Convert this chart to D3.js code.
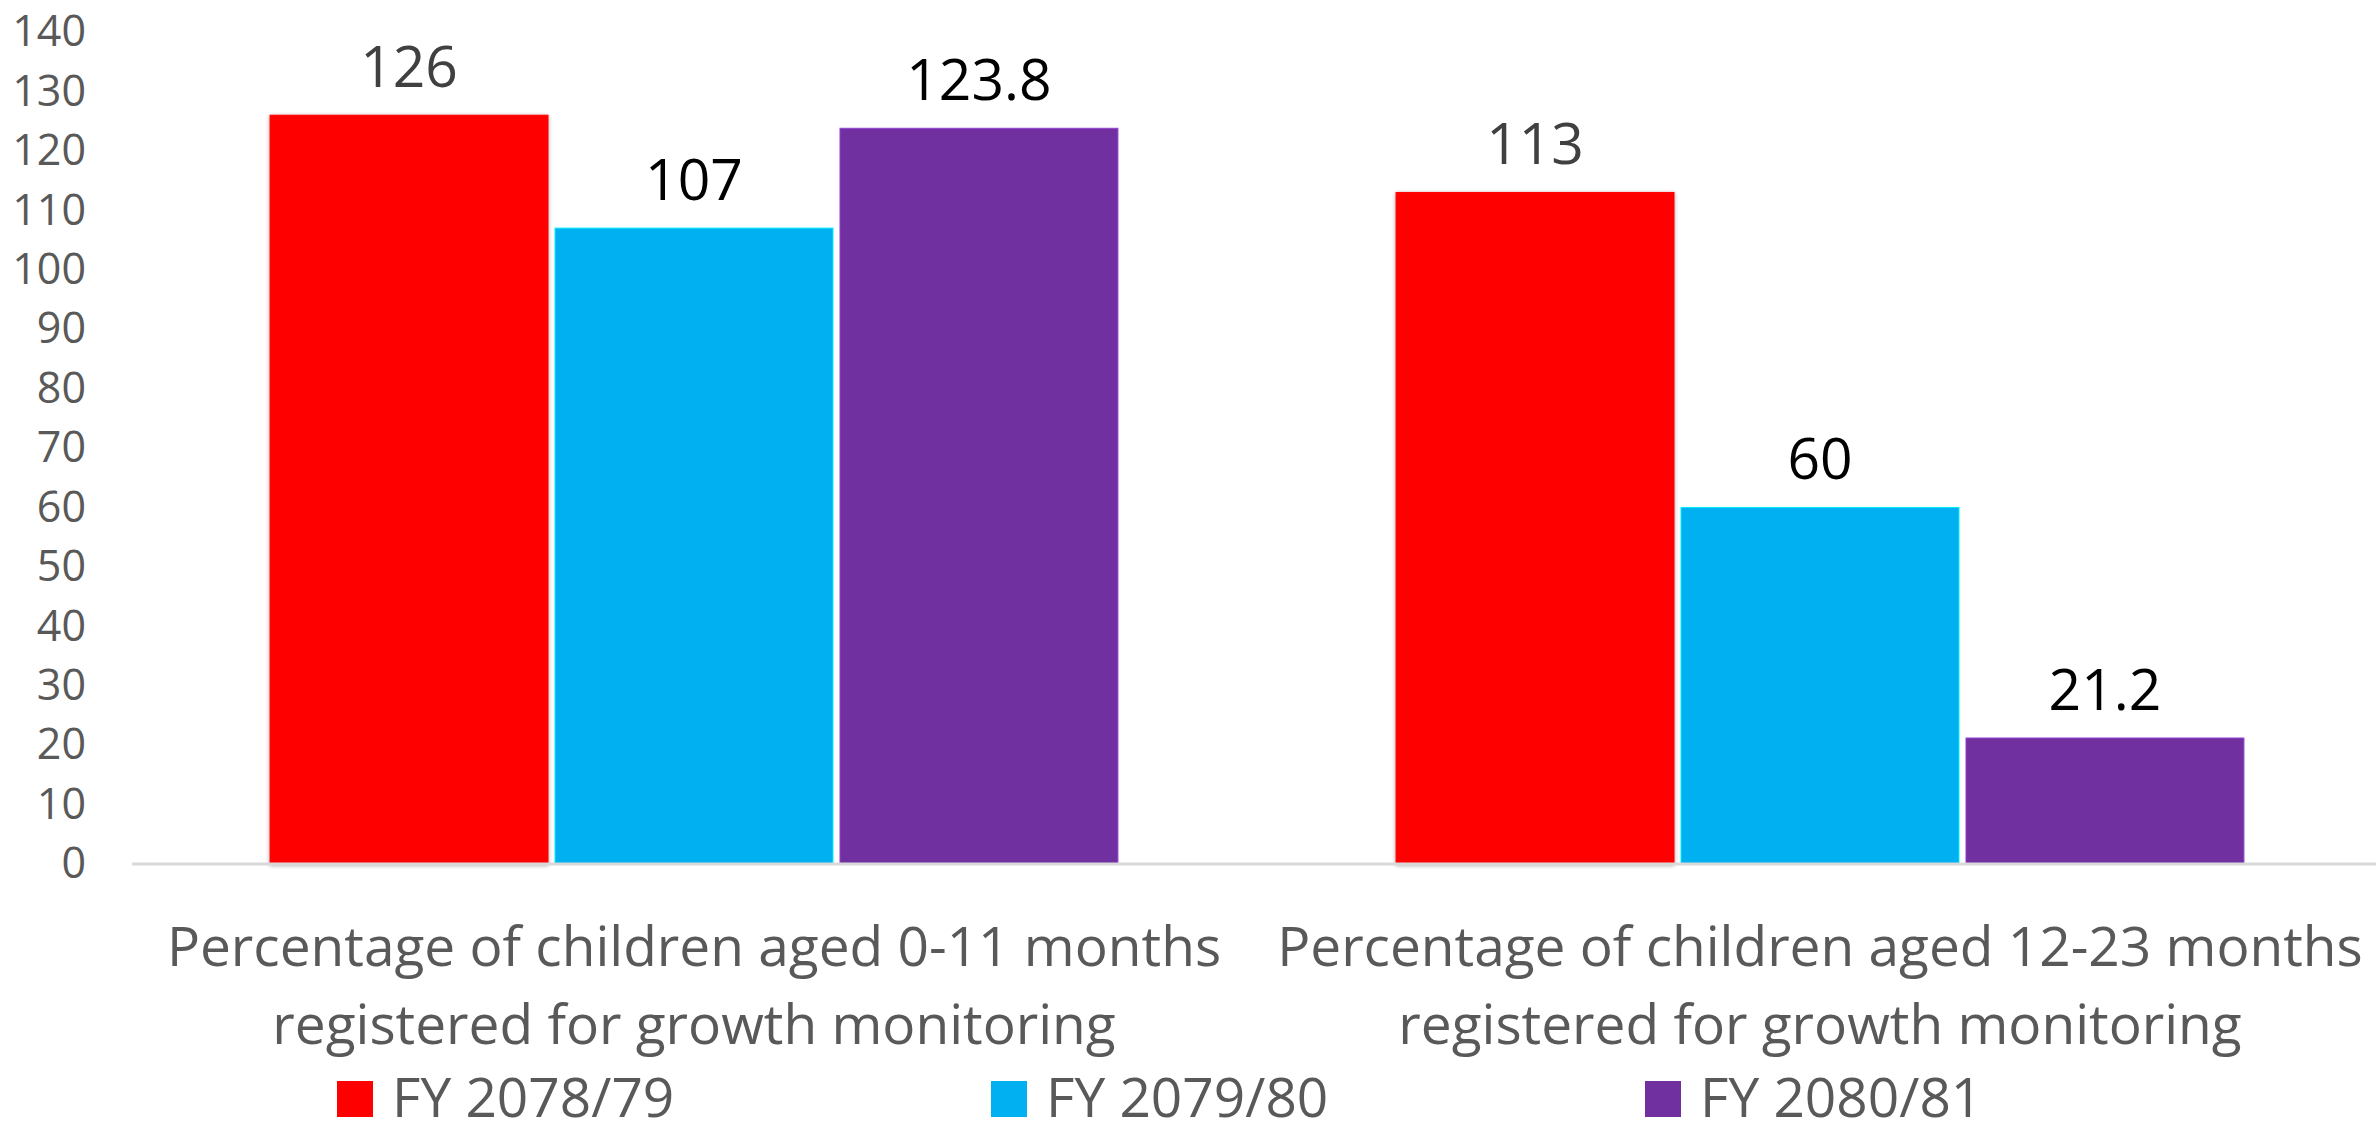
<!DOCTYPE html>
<html>
<head>
<meta charset="utf-8">
<script src="https://cdn.jsdelivr.net/npm/d3@7"></script>
<style>
  html, body { margin: 0; padding: 0; background: #fff; }
  svg { display: block; }
  text { font-family: "Open Sans", "Noto Sans", sans-serif; }
</style>
</head>
<body>
<svg id="chart" width="2376" height="1132"></svg>
<script>
// ---- data ----
const categories = [
  "Percentage of children aged 0-11 months registered for growth monitoring",
  "Percentage of children aged 12-23 months registered for growth monitoring"
];
const categoryLines = [
  ["Percentage of children aged 0-11 months", "registered for growth monitoring"],
  ["Percentage of children aged 12-23 months", "registered for growth monitoring"]
];
const seriesNames = ["FY 2078/79", "FY 2079/80", "FY 2080/81"];
const values2078 = [126, 113];
const values2079 = [107, 60];
const values2080 = [123.8, 21.2];
const valueLabels2078 = ["126", "113"];
const valueLabels2079 = ["107", "60"];
const valueLabels2080 = ["123.8", "21.2"];
const yTicks = [0, 10, 20, 30, 40, 50, 60, 70, 80, 90, 100, 110, 120, 130, 140];

// ---- styles ----
const colors = ["#FF0000", "#00B0F0", "#7030A0"];
const labelColors = ["#404040", "#000000", "#000000"];
const seriesValues = [values2078, values2079, values2080];
const seriesLabels = [valueLabels2078, valueLabels2079, valueLabels2080];

const svg = d3.select("#chart");

const defs = svg.append("defs");
const f = defs.append("filter").attr("id", "shadow")
  .attr("x", "-5%").attr("y", "-5%").attr("width", "110%").attr("height", "110%");
f.append("feGaussianBlur").attr("in", "SourceAlpha").attr("stdDeviation", 2).attr("result", "b");
f.append("feOffset").attr("in", "b").attr("dx", 0).attr("dy", 1).attr("result", "o");
f.append("feComponentTransfer").attr("in", "o").attr("result", "o2")
  .append("feFuncA").attr("type", "linear").attr("slope", 0.35);
const fm = f.append("feMerge");
fm.append("feMergeNode").attr("in", "o2");
fm.append("feMergeNode").attr("in", "SourceGraphic");

const y = d3.scaleLinear().domain([0, 140]).range([864, 32]);
const x0 = d3.scaleBand().domain(categories).range([131, 2383])
  .paddingInner(0.247).paddingOuter(0.1235);
const x1 = d3.scaleBand().domain(seriesNames).range([0, x0.bandwidth()])
  .paddingInner(0.0246);

// y axis labels
const yAxis = svg.append("g").attr("transform", "translate(86,0)")
  .call(d3.axisLeft(y).tickValues(yTicks).tickSize(0).tickPadding(0));
yAxis.select(".domain").remove();
yAxis.selectAll("text")
  .attr("fill", "#595959")
  .style("font-size", "43px")
  .style("font-family", "'Open Sans', sans-serif");

// bars
const groups = svg.append("g").selectAll("g")
  .data(categories).join("g")
  .attr("transform", d => `translate(${x0(d)},0)`);

seriesNames.forEach((s, si) => {
  groups.append("rect")
    .attr("x", x1(s))
    .attr("width", x1.bandwidth())
    .attr("y", (d, ci) => y(seriesValues[si][ci]))
    .attr("height", (d, ci) => y(0) - y(seriesValues[si][ci]))
    .attr("fill", colors[si])
    .attr("stroke", d3.color(colors[si]).brighter(0.8))
    .attr("stroke-width", 1)
    .attr("filter", si === 0 ? "url(#shadow)" : null);
  groups.append("text")
    .attr("x", x1(s) + x1.bandwidth() / 2)
    .attr("y", (d, ci) => y(seriesValues[si][ci]) - 28)
    .attr("text-anchor", "middle")
    .attr("fill", labelColors[si])
    .style("font-size", "57px")
    .text((d, ci) => seriesLabels[si][ci]);
});

// x axis line
const xAxis = svg.append("g").attr("transform", `translate(0,${y(0)})`)
  .call(d3.axisBottom(x0).tickSize(0).tickFormat(""));
xAxis.select(".domain").attr("stroke", "#D9D9D9").attr("stroke-width", 3)
  .attr("d", `M132,0H2376`);

// category labels
categories.forEach((c, ci) => {
  const cx = x0(c) + x0.bandwidth() / 2;
  const t = svg.append("text")
    .attr("text-anchor", "middle")
    .attr("fill", "#595959")
    .style("font-size", "55px");
  categoryLines[ci].forEach((line, li) => {
    t.append("tspan").attr("x", cx).attr("y", 966 + li * 78).text(line);
  });
});

// legend
const legendX = d3.scaleOrdinal().domain(seriesNames).range([337, 991, 1645]);
const lg = svg.append("g").selectAll("g").data(seriesNames).join("g")
  .attr("transform", d => `translate(${legendX(d)},1081)`);
lg.append("rect").attr("width", 36).attr("height", 36)
  .attr("fill", (d, i) => colors[i]);
lg.append("text").attr("x", 55).attr("y", 36)
  .attr("fill", "#595959")
  .style("font-size", "55px")
  .text(d => d);
</script>
</body>
</html>
